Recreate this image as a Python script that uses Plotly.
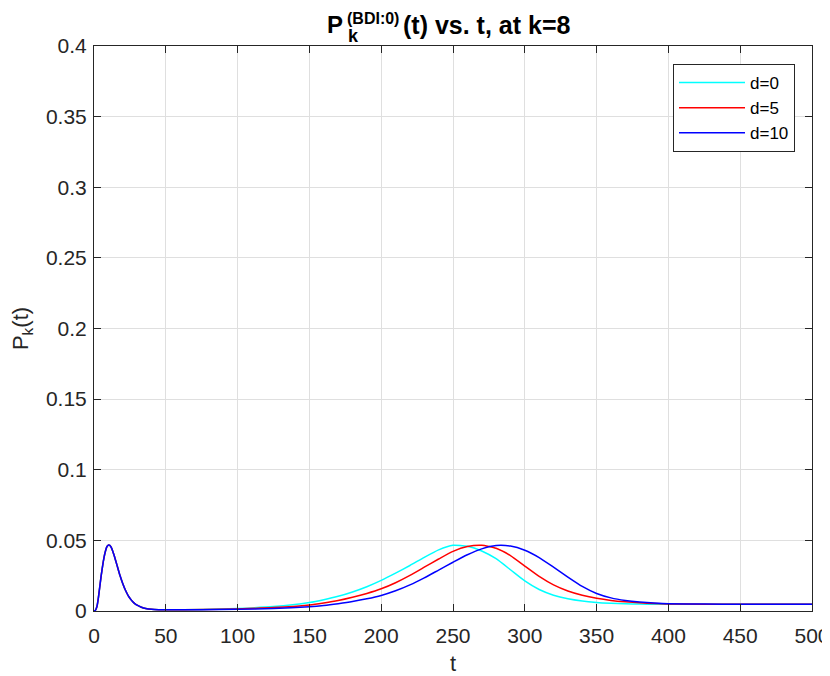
import plotly.graph_objects as go

# ---- data ----
t_spike = [0, 1, 2, 3, 4, 5, 6, 7, 8, 9, 10, 11, 12, 13, 14, 16, 18, 20, 22, 24, 26, 28, 30, 33, 36, 40, 45, 50]
p_spike = [0.0, 0.0005, 0.003, 0.009, 0.017, 0.025, 0.032, 0.038, 0.0425, 0.0455, 0.0467, 0.0465, 0.045,
           0.0425, 0.0395, 0.0325, 0.0255, 0.0195, 0.0145, 0.0105, 0.0077, 0.0056, 0.0041, 0.0027,
           0.0018, 0.0012, 0.0009, 0.0008]

t_bell = [75, 100, 125, 150, 160, 170, 180, 190, 200, 210, 220, 230, 240, 250, 260, 270, 280, 290, 300,
          310, 320, 330, 340, 350, 360, 370, 380, 390, 400, 425, 450, 475, 500]

p_d0 = [0.0011, 0.0018, 0.0031, 0.0060, 0.0080, 0.0104, 0.0135, 0.0172, 0.0217, 0.0268, 0.0322, 0.0380,
        0.0433, 0.0465, 0.0458, 0.0425, 0.0370, 0.0292, 0.0213, 0.0152, 0.0112, 0.0087, 0.0071, 0.0061,
        0.0055, 0.0051, 0.0049, 0.0048, 0.0048, 0.0047, 0.0047, 0.0047, 0.0047]
p_d5 = [0.0010, 0.0015, 0.0024, 0.0043, 0.0057, 0.0074, 0.0097, 0.0124, 0.0157, 0.0200, 0.0252, 0.0310,
        0.0368, 0.0422, 0.0456, 0.0465, 0.0444, 0.0392, 0.0318, 0.0245, 0.0185, 0.0142, 0.0112, 0.0090,
        0.0075, 0.0065, 0.0058, 0.0053, 0.0050, 0.0048, 0.0047, 0.0047, 0.0047]
p_d10 = [0.0009, 0.0012, 0.0018, 0.0030, 0.0039, 0.0052, 0.0067, 0.0086, 0.0110, 0.0143, 0.0185, 0.0235,
         0.0290, 0.0345, 0.0398, 0.0440, 0.0464, 0.0460, 0.0430, 0.0378, 0.0310, 0.0240, 0.0174, 0.0124,
         0.0093, 0.0075, 0.0064, 0.0057, 0.0052, 0.0049, 0.0047, 0.0047, 0.0047]

series_names = ["d=0", "d=5", "d=10"]
series_values = [p_d0, p_d5, p_d10]
series_colors = ["#00FFFF", "#FF0000", "#0000FF"]

y_ticks = [0, 0.05, 0.1, 0.15, 0.2, 0.25, 0.3, 0.35, 0.4]
y_tick_labels = ["0", "0.05", "0.1", "0.15", "0.2", "0.25", "0.3", "0.35", "0.4"]
x_ticks = [0, 50, 100, 150, 200, 250, 300, 350, 400, 450, 500]

FONT = "Liberation Sans, Arial, Helvetica, sans-serif"
AX = "#262626"

fig = go.Figure()
for name, vals, col in zip(series_names, series_values, series_colors):
    fig.add_trace(go.Scatter(
        x=t_spike + t_bell, y=p_spike + vals, name=name, mode="lines",
        line=dict(color=col, width=1.5, shape="spline", smoothing=0.5),
    ))

# target plot area in page pixels; the page body adds an 8px offset
OFF = 8
Lp, Rp, Tp, Bp = 94, 812, 46, 611
W, H = 830 - OFF, 676 - OFF
L, R, T, B = Lp - OFF, Rp - OFF, Tp - OFF, Bp - OFF


def px(xp):
    return (xp - Lp) / (Rp - Lp)


def py(yp):
    return (Bp - yp) / (Bp - Tp)


anns = [
    dict(text="<b>P</b>", x=px(345), y=py(25), xanchor="right", yanchor="middle", font=dict(size=24)),
    dict(text="<b>(BDI:0)</b>", x=px(345), y=py(OFF), xanchor="left", yanchor="top", font=dict(size=16)),
    dict(text="<b>k</b>", x=px(346), y=py(36), xanchor="left", yanchor="middle", font=dict(size=18)),
    dict(text="<b>(t) vs. t, at k=8</b>", x=px(401), y=py(25), xanchor="left", yanchor="middle",
         font=dict(size=25)),
]
for a in anns:
    a.update(xref="paper", yref="paper", showarrow=False)
    a["font"].update(family=FONT, color="#000000")

fig.update_layout(
    width=W, height=H,
    margin=dict(l=L, r=W - R, t=T, b=H - B),
    paper_bgcolor="white", plot_bgcolor="white",
    font=dict(family=FONT, size=21, color=AX),
    annotations=anns,
    showlegend=True,
    legend=dict(
        x=px(795), y=py(64), xanchor="right", yanchor="top",
        bgcolor="white", bordercolor=AX, borderwidth=1,
        font=dict(family=FONT, size=17, color="#000000"),
        tracegroupgap=0, itemwidth=66,
    ),
)
fig.update_xaxes(
    range=[0, 500], tickvals=x_ticks, ticks="inside", ticklen=7, tickcolor=AX,
    showline=True, linecolor=AX, linewidth=1, mirror="ticks", automargin=False,
    showgrid=True, gridcolor="#dfdfdf", gridwidth=1, zeroline=False,
    title=dict(text="t", font=dict(size=22, color=AX), standoff=14),
    tickfont=dict(size=21, color=AX), ticklabelstandoff=6,
)
fig.update_yaxes(
    range=[0, 0.4], tickvals=y_ticks, ticktext=y_tick_labels, ticks="inside", ticklen=7, tickcolor=AX,
    showline=True, linecolor=AX, linewidth=1, mirror="ticks", automargin=False,
    showgrid=True, gridcolor="#dfdfdf", gridwidth=1, zeroline=False,
    title=dict(text="P<sub>k</sub>(t)", font=dict(size=22, color=AX), standoff=24),
    tickfont=dict(size=21, color=AX), ticklabelstandoff=2,
)

fig.write_html("out.html")
